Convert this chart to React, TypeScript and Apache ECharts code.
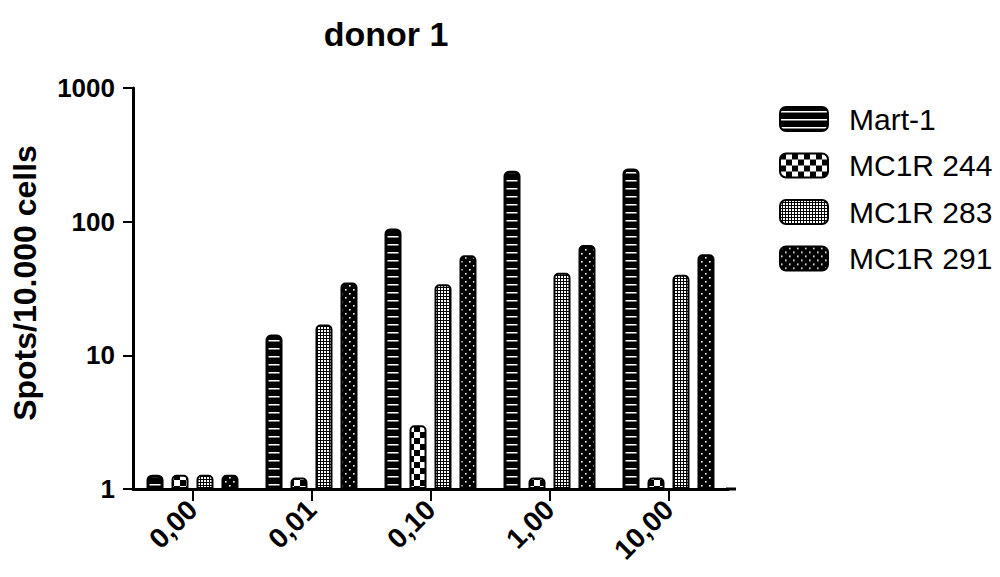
import React, { useEffect, useRef } from "react";
import * as echarts from "echarts";

const categories = ["0,00", "0,01", "0,10", "1,00", "10,00"];
const seriesNames = ["Mart-1", "MC1R 244", "MC1R 283", "MC1R 291"];
const mart1 = [1.28, 14.3, 89, 240, 250];
const mc1r244 = [1.28, 1.22, 3.0, 1.22, 1.22];
const mc1r283 = [1.28, 17, 34, 41.5, 40];
const mc1r291 = [1.28, 35, 56, 67, 57];
const yTicks = [1, 10, 100, 1000];
const titleText = "donor 1";
const yName = "Spots/10.000 cells";

function makeTile(w: number, h: number, draw: (ctx: CanvasRenderingContext2D) => void) {
  const c = document.createElement("canvas");
  c.width = w;
  c.height = h;
  const ctx = c.getContext("2d")!;
  draw(ctx);
  return c;
}

export default function App() {
  const ref = useRef<HTMLDivElement>(null);
  useEffect(() => {
    document.body.style.margin = "0";
    const chart = echarts.init(ref.current!, undefined, { renderer: "svg" });

    const stripes = makeTile(8, 8, (ctx) => {
      ctx.fillStyle = "#000";
      ctx.fillRect(0, 0, 8, 8);
      ctx.fillStyle = "#fff";
      ctx.fillRect(0, 4, 8, 1.5);
    });
    const bigChecker = makeTile(12, 12, (ctx) => {
      ctx.fillStyle = "#fff";
      ctx.fillRect(0, 0, 12, 12);
      ctx.fillStyle = "#000";
      ctx.fillRect(0, 0, 6, 6);
      ctx.fillRect(6, 6, 6, 6);
    });
    const fineChecker = makeTile(3, 3, (ctx) => {
      ctx.fillStyle = "#000";
      ctx.fillRect(0, 0, 3, 3);
      ctx.fillStyle = "#fff";
      ctx.fillRect(0, 0, 2, 2);
    });
    const dots = makeTile(8, 8, (ctx) => {
      ctx.fillStyle = "#000";
      ctx.fillRect(0, 0, 8, 8);
      ctx.fillStyle = "#fff";
      ctx.fillRect(1, 1, 1.6, 1.6);
      ctx.fillRect(5, 5, 1.6, 1.6);
    });
    const patterns = [stripes, bigChecker, fineChecker, dots];
    const data = [mart1, mc1r244, mc1r283, mc1r291];
    const font = 'Arial, "Liberation Sans", sans-serif';

    chart.setOption({
      animation: false,
      backgroundColor: "#fff",
      textStyle: { fontFamily: font },
      grid: { left: 133, top: 88, width: 595, height: 401, containLabel: false },
      graphic: [
        {
          type: "text",
          x: 386,
          y: 34,
          style: {
            text: titleText,
            font: `bold 34px ${font}`,
            fill: "#000",
            textAlign: "center",
            textVerticalAlign: "middle",
          },
        },
        {
          type: "text",
          x: 25,
          y: 283,
          rotation: Math.PI / 2,
          style: {
            text: yName,
            font: `bold 32px ${font}`,
            fill: "#000",
            textAlign: "center",
            textVerticalAlign: "middle",
          },
        },
        {
          type: "line",
          shape: { x1: 726, y1: 489, x2: 736, y2: 489 },
          style: { stroke: "#000", lineWidth: 3 },
        },
      ],
      legend: {
        orient: "vertical",
        left: 774,
        top: 99,
        icon: "roundRect",
        itemWidth: 48,
        itemHeight: 24,
        itemGap: 16.5,
        textStyle: {
          fontSize: 30,
          lineHeight: 30,
          color: "#000",
          fontFamily: font,
          padding: [0, 0, 0, 16],
        },
        data: seriesNames,
      },
      xAxis: {
        type: "category",
        data: categories,
        axisLine: { show: true, lineStyle: { color: "#000", width: 3 } },
        axisTick: { show: true, alignWithLabel: true, length: 12, lineStyle: { color: "#000", width: 2 } },
        axisLabel: {
          rotate: 45,
          margin: 16,
          color: "#000",
          fontWeight: "bold",
          fontSize: 28,
          fontFamily: font,
        },
      },
      yAxis: {
        type: "log",
        logBase: 10,
        min: yTicks[0],
        max: yTicks[yTicks.length - 1],
        splitLine: { show: false },
        axisLine: { show: true, lineStyle: { color: "#000", width: 3 } },
        axisTick: { show: true, length: 10, lineStyle: { color: "#000", width: 2 } },
        axisLabel: {
          margin: 18,
          color: "#000",
          fontWeight: "bold",
          fontSize: 26,
          fontFamily: font,
          formatter: (v: number) => String(Math.round(v)),
        },
      },
      series: seriesNames.map((name, i) => ({
        name,
        type: "bar",
        data: data[i],
        barWidth: 17,
        barGap: "47%",
        itemStyle: {
          color: { image: patterns[i], repeat: "repeat" },
          borderColor: "#000",
          borderWidth: i === 0 ? 3 : 2,
          borderRadius: [4, 4, 0, 0],
        },
      })),
    });
    return () => chart.dispose();
  }, []);
  return <div ref={ref} style={{ width: 1000, height: 577 }} />;
}
